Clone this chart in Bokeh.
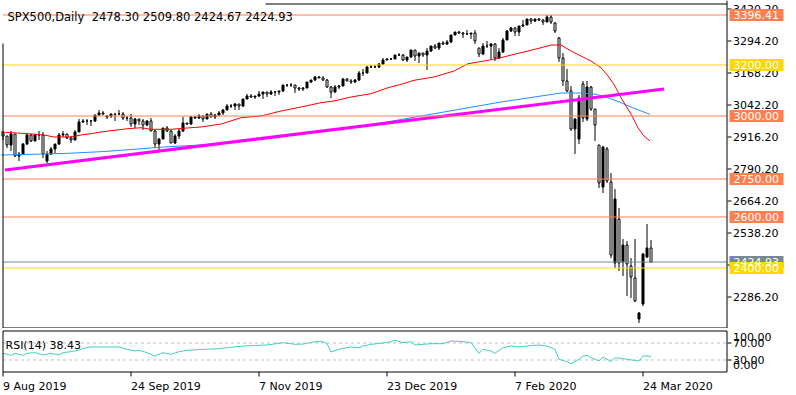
from bokeh.plotting import figure
from bokeh.layouts import column
from bokeh.models import Range1d, ColumnDataSource
from bokeh.core.properties import value
from bokeh.embed import file_html
from bokeh.resources import INLINE
import math

# ---------------- data ----------------
tick_idx = [0, 32, 64, 96, 128, 160]
tick_labels = ["9 Aug 2019", "24 Sep 2019", "7 Nov 2019", "23 Dec 2019", "7 Feb 2020", "24 Mar 2020"]

opens = [2930, 2918, 2883, 2926, 2841, 2848, 2889, 2924, 2901, 2924,
         2923, 2822, 2850, 2869, 2887, 2924, 2926, 2912, 2906, 2937,
         2976, 2979, 2978, 2980, 3001, 3010, 2995, 2998, 3006, 3007,
         3006, 2992, 2991, 2966, 2985, 2977, 2962, 2977, 2940, 2887,
         2910, 2952, 2938, 2893, 2919, 2938, 2970, 2966, 2995, 2989,
         2998, 2986, 3006, 2996, 3004, 3010, 3022, 3039, 3037, 3046,
         3037, 3066, 3078, 3074, 3077, 3085, 3093, 3087, 3092, 3094,
         3097, 3120, 3122, 3120, 3108, 3104, 3110, 3133, 3140, 3153,
         3150, 3141, 3114, 3093, 3112, 3117, 3146, 3136, 3132, 3142,
         3168, 3169, 3191, 3192, 3191, 3205, 3221, 3224, 3223, 3240,
         3240, 3221, 3231, 3258, 3235, 3246, 3237, 3253, 3274, 3265,
         3288, 3283, 3289, 3317, 3330, 3324, 3321, 3322, 3326, 3266,
         3243, 3276, 3273, 3284, 3226, 3249, 3298, 3335, 3346, 3328,
         3352, 3358, 3379, 3374, 3380, 3378, 3370, 3390, 3365, 3306,
         3226, 3136, 3098, 2946, 2907, 3123, 2985, 3112, 3025, 2884,
         2720, 2869, 2740, 2421, 2592, 2424, 2489, 2408, 2362, 2198,
         2257, 2444, 2478.30]
highs = [2938, 2921, 2941, 2928, 2858, 2893, 2931, 2928, 2928, 2939,
         2937, 2862, 2878, 2890, 2930, 2940, 2928, 2920, 2945, 2985,
         2985, 2988, 2981, 3002, 3021, 3017, 3002, 3006, 3008, 3022,
         3016, 3000, 3007, 2989, 2987, 2988, 2983, 2992, 2942, 2911,
         2953, 2959, 2944, 2929, 2948, 2993, 2972, 2999, 2997, 3008,
         3000, 3007, 3014, 3005, 3017, 3027, 3044, 3047, 3050, 3047,
         3067, 3085, 3084, 3078, 3097, 3094, 3094, 3102, 3098, 3098,
         3121, 3124, 3128, 3121, 3112, 3113, 3134, 3142, 3155, 3157,
         3155, 3145, 3116, 3120, 3120, 3150, 3148, 3143, 3143, 3176,
         3183, 3197, 3198, 3198, 3206, 3226, 3228, 3226, 3240, 3248,
         3244, 3232, 3259, 3260, 3247, 3248, 3268, 3276, 3283, 3288,
         3295, 3298, 3317, 3330, 3332, 3329, 3338, 3327, 3338, 3268,
         3285, 3293, 3285, 3287, 3268, 3306, 3338, 3348, 3349, 3353,
         3376, 3382, 3386, 3381, 3385, 3380, 3396.41, 3395, 3368, 3310,
         3246, 3182, 3117, 2990, 3082, 3136, 3136, 3115, 3028, 2886,
         2880, 2875, 2775, 2710, 2636, 2513, 2506, 2441, 2514, 2226,
         2460, 2572, 2509.80]
lows = [2903, 2873, 2860, 2838, 2822, 2845, 2886, 2898, 2899, 2904,
        2834, 2812, 2845, 2853, 2885, 2914, 2908, 2891, 2905, 2935,
        2972, 2964, 2958, 2975, 2998, 3002, 2987, 2992, 2978, 3003,
        2984, 2979, 2957, 2953, 2963, 2945, 2958, 2938, 2874, 2855,
        2908, 2935, 2892, 2890, 2908, 2936, 2962, 2963, 2986, 2986,
        2976, 2985, 2995, 2987, 3000, 3001, 3022, 3032, 3022, 3023,
        3035, 3066, 3068, 3064, 3073, 3066, 3075, 3083, 3078, 3082,
        3094, 3111, 3113, 3091, 3096, 3099, 3109, 3130, 3137, 3147,
        3138, 3109, 3070, 3090, 3103, 3117, 3135, 3124, 3129, 3138,
        3158, 3168, 3188, 3188, 3189, 3201, 3218, 3219, 3222, 3234,
        3216, 3212, 3229, 3214, 3206, 3232, 3181, 3250, 3261, 3260,
        3277, 3280, 3288, 3316, 3321, 3306, 3318, 3301, 3283, 3230,
        3238, 3268, 3225, 3214, 3222, 3247, 3296, 3330, 3315, 3315,
        3350, 3357, 3360, 3368, 3374, 3358, 3368, 3360, 3327, 3212,
        3117, 3092, 2940, 2850, 2890, 2975, 2980, 3020, 2900, 2716,
        2697, 2735, 2440, 2401, 2388, 2368, 2290, 2280, 2268, 2185,
        2250, 2440, 2424.67]
closes = [2918, 2883, 2926, 2841, 2848, 2889, 2924, 2901, 2924, 2923,
          2847, 2850, 2869, 2887, 2924, 2926, 2912, 2906, 2937, 2976,
          2979, 2978, 2980, 3001, 3010, 3007, 2998, 3006, 3007, 3006,
          2992, 2991, 2966, 2985, 2977, 2962, 2977, 2940, 2887, 2910,
          2952, 2938, 2893, 2919, 2938, 2970, 2966, 2995, 2989, 2998,
          2986, 3006, 2996, 3004, 3010, 3022, 3039, 3037, 3046, 3037,
          3066, 3078, 3074, 3077, 3085, 3093, 3087, 3092, 3094, 3097,
          3120, 3122, 3120, 3108, 3104, 3110, 3133, 3140, 3153, 3150,
          3141, 3114, 3093, 3112, 3117, 3146, 3136, 3132, 3142, 3168,
          3169, 3191, 3192, 3191, 3205, 3221, 3224, 3223, 3240, 3240,
          3221, 3231, 3258, 3235, 3246, 3237, 3253, 3274, 3265, 3288,
          3283, 3289, 3317, 3330, 3324, 3321, 3322, 3326, 3295, 3243,
          3276, 3273, 3284, 3226, 3249, 3298, 3335, 3346, 3328, 3352,
          3358, 3379, 3374, 3380, 3378, 3370, 3390, 3369, 3334, 3226,
          3136, 3098, 2946, 2987, 3071, 2992, 3112, 3025, 2963, 2735,
          2876, 2743, 2452, 2670, 2421, 2489, 2415, 2366, 2270, 2224,
          2454, 2477, 2424.93]

ma_red_idx = [-0.5, 6.25, 10.25, 12.75, 17, 19.5, 22, 24.5, 27.75, 31.25, 34.5, 37, 42, 47, 49.5,
              54.5, 59.5, 64.5, 69.5, 74.5, 79.5, 82.75, 87, 92, 96.25, 99.5, 102.75, 107.75,
              112.75, 116.25, 121.25, 124.5, 127.75, 131.25, 134.5, 137, 139.5, 142, 144.5, 147,
              149.5, 151.25, 152.75, 154.5, 157, 158.75, 160.25, 161.75]
ma_red = [2935.6, 2928.9, 2923.8, 2915.9, 2915.9, 2923.8, 2928.9, 2935.6, 2942.3, 2948.6, 2952.5,
          2946.2, 2946.2, 2952.5, 2955.3, 2967.0, 2991.9, 2998.6, 3018.3, 3034.0, 3051.0, 3057.6,
          3073.4, 3086.4, 3110.0, 3123.4, 3139.2, 3152.2, 3175.8, 3204.5, 3217.9, 3228.2, 3241.5,
          3254.5, 3267.5, 3278.2, 3278.2, 3254.5, 3234.9, 3215.2, 3188.8, 3156.1, 3123.4, 3070.6,
          3006.5, 2952.5, 2919.8, 2900.1]

ma_blue_idx = [-0.5, 7.75, 16.25, 24.5, 32.75, 41.25, 49.5, 54.5, 64.5, 74.5, 84.5, 94.5, 104.5,
               114.5, 124.5, 134.5, 139.5, 144.5, 148.25, 151.25, 154.5, 157.75, 161.75]
ma_blue = [2845.0, 2847.8, 2851.7, 2858.0, 2867.4, 2877.7, 2884.4, 2891.0, 2908.0, 2927.7, 2947.4,
           2971.0, 2998.6, 3026.1, 3053.7, 3077.3, 3089.2, 3089.2, 3084.0, 3070.6, 3050.9, 3028.9,
           3005.3]

trend_idx = [0.5, 165.25]
trend_price = [2786, 3105]

level_prices = [3396.41, 3200.00, 3000.00, 2750.00, 2600.00, 2424.93, 2400.00]
level_colors = ["#FF7F50", "#FFD700", "#FF7F50", "#FF7F50", "#FF7F50", "#778899", "#FFD700"]

price_ticks = [2286.2, 2412.2, 2538.2, 2664.2, 2790.2, 2916.2, 3042.2, 3168.2, 3294.2, 3420.2]

rsi_idx = [0, 2, 3, 5, 6, 8, 10, 12, 14, 15, 17, 19, 20, 22, 29, 31, 33, 34, 36, 38, 40, 42, 44, 46,
           50, 54, 56, 60, 66, 70, 73, 75, 78, 80, 81, 82, 84, 85, 87, 89, 90, 92, 95, 97, 98, 100,
           102, 103, 105, 107, 110, 112, 115, 117, 119, 120, 122, 123, 125, 127, 129, 131, 134, 136,
           138, 139, 141, 142, 144, 145, 146, 147, 149, 150, 152, 153, 155, 156, 159, 160, 161, 162]
rsi_vals = [45.8, 41.0, 45.8, 41.0, 45.8, 47.3, 41.8, 45.8, 41.8, 47.3, 49.6, 53.5, 57.5, 60.6, 60.6,
            55.1, 51.2, 52.7, 47.3, 39.4, 47.3, 43.4, 49.6, 52.7, 55.1, 56.7, 59.0, 62.9, 65.3, 70.7,
            66.9, 67.5, 73.1, 73.1, 68.4, 48.8, 55.1, 57.5, 60.6, 59.0, 62.9, 66.9, 70.0, 73.1, 76.4,
            70.7, 73.1, 65.3, 66.9, 68.4, 68.4, 74.7, 73.1, 70.7, 45.8, 55.1, 51.2, 45.8, 59.0, 62.9,
            60.6, 62.9, 65.3, 62.9, 55.1, 31.6, 26.1, 21.3, 31.6, 39.4, 41.0, 35.5, 27.6, 37.1, 26.1,
            35.5, 33.2, 31.6, 27.6, 39.4, 39.4, 38.43]
rsi_levels = [70, 30]
rsi_axis_labels = ["100.00", "70.00", "30.00", "0.00"]

# ---------------- layout constants (pixels -> data) ----------------
FONT = value("DejaVu Sans")
FS = value("11px")
PX = 4.0                      # pixels per bar
XS = -0.625                   # bar i centred at pixel 2.5 + 4 i
XE = XS + 796 / PX
def xd(px):                   # pixel column -> x data
    return px / PX + XS

PY = 3.9384                   # price per pixel
YTOP = 3453.5                 # price at pixel row 0
def yd(py):                   # pixel row -> price
    return YTOP - py * PY
def snap(price):              # draw a price on the centre of its pixel row (crisp 1px lines)
    return yd(math.floor((YTOP - price) / PY) + 0.5)

AX = xd(726.5)                # price-axis line
LEFT = xd(2.5)
TOPB = yd(3.5)
BOTB = yd(327.5)

# ---------------- main pane ----------------
idx = list(range(len(opens)))
src = ColumnDataSource(dict(
    x=idx, h=[snap(v) for v in highs], l=[snap(v) for v in lows],
    top=[snap(max(o, c)) for o, c in zip(opens, closes)],
    bot=[snap(min(o, c)) for o, c in zip(opens, closes)],
    fill=["black" if c > o else "white" for o, c in zip(opens, closes)],
))

p = figure(width=796, height=328, x_range=Range1d(XS, XE), y_range=Range1d(yd(328), YTOP),
           output_backend="svg", toolbar_location=None, x_axis_location=None,
           y_axis_location=None, min_border=0)
p.grid.visible = False
p.outline_line_color = None
p.background_fill_color = "white"
p.border_fill_color = "white"

p.segment(x0="x", y0="l", x1="x", y1="h", source=src, line_color="black", line_width=1)
p.vbar(x="x", width=0.5, top="top", bottom="bot", fill_color="fill", line_color="black",
       line_width=1, source=src)

p.line(ma_blue_idx, ma_blue, line_color="#1E90FF", line_width=1)
p.line(ma_red_idx, ma_red, line_color="#FF0000", line_width=1)
p.line(trend_idx, trend_price, line_color="#FF00FF", line_width=3)

lv_draw = [snap(lv) for lv in level_prices]
p.segment(x0=[LEFT] * len(level_prices), x1=[AX] * len(level_prices), y0=lv_draw,
          y1=lv_draw, line_color=level_colors, line_width=1)

# pane border and price axis
p.segment(x0=[xd(265), LEFT, LEFT, AX], x1=[AX, AX, LEFT, AX],
          y0=[TOPB, BOTB, yd(43), YTOP], y1=[TOPB, BOTB, BOTB, BOTB],
          line_color="black", line_width=1)
tk_draw = [snap(t) for t in price_ticks]
p.segment(x0=[xd(727)] * len(price_ticks), x1=[xd(731)] * len(price_ticks), y0=tk_draw,
          y1=tk_draw, line_color="black", line_width=1)
p.text(x=[xd(732.5)] * len(price_ticks), y=tk_draw, text=["%.2f" % t for t in price_ticks],
       text_font=FONT, text_font_size=FS, text_baseline="middle", text_align="left",
       text_color="black")

half = 6 * PY
p.quad(left=[xd(729)] * len(level_prices), right=[xd(783)] * len(level_prices),
       top=[lv + half for lv in lv_draw], bottom=[lv - half for lv in lv_draw],
       fill_color=level_colors, line_color=None)
p.text(x=[xd(733)] * len(level_prices), y=lv_draw, text=["%.2f" % lv for lv in level_prices],
       text_font=FONT, text_font_size=FS, text_baseline="middle", text_align="left",
       text_color="white")

title = "SPX500,Daily\u00a0\u00a0%.2f %.2f %.2f %.2f" % (opens[-1], highs[-1], lows[-1], closes[-1])
p.text(x=[xd(7)], y=[yd(16.5)], text=[title], text_font=FONT, text_font_size=value("11.5px"),
       text_baseline="alphabetic", text_align="left", text_color="black")

# ---------------- RSI pane + time axis ----------------
R_SLOPE = 0.425               # pixels per RSI unit
def rd(py):                   # page pixel row -> RSI value
    return 70 - (py - 342.5) / R_SLOPE

r = figure(width=796, height=67, x_range=p.x_range, y_range=Range1d(rd(395), rd(328)),
           output_backend="svg", toolbar_location=None, x_axis_location=None,
           y_axis_location=None, min_border=0)
r.grid.visible = False
r.outline_line_color = None
r.background_fill_color = "white"
r.border_fill_color = "white"

RT, RB = rd(330.5), rd(371.5)
r.segment(x0=[LEFT] * 2, x1=[AX] * 2, y0=rsi_levels, y1=rsi_levels, line_color="#C0C0C0",
          line_width=1, line_dash="3 3")
r.line(rsi_idx, rsi_vals, line_color="#40D0C8", line_width=1)
r.segment(x0=[LEFT, LEFT, LEFT, AX], x1=[AX, AX, LEFT, AX], y0=[RT, RB, RB, RB],
          y1=[RT, RB, RT, RT], line_color="black", line_width=1)
r.segment(x0=[xd(727)] * 2, x1=[xd(731)] * 2, y0=rsi_levels, y1=rsi_levels,
          line_color="black", line_width=1)
r.text(x=[xd(732.5)] * 4, y=[rd(336.3), 70, 30, rd(364.3)], text=rsi_axis_labels,
       text_font=FONT, text_font_size=FS, text_baseline="middle", text_align="left",
       text_color="black")
r.text(x=[xd(5)], y=[rd(344.5)], text=["RSI(14) %.2f" % rsi_vals[-1]], text_font=FONT,
       text_font_size=FS, text_baseline="alphabetic", text_align="left", text_color="black")

# time axis: ticks below the pane, labels starting at their tick
r.segment(x0=tick_idx, x1=tick_idx, y0=[RB] * len(tick_idx), y1=[rd(376)] * len(tick_idx),
          line_color="black", line_width=1)
r.text(x=tick_idx, y=[rd(386)] * len(tick_idx), text=tick_labels, text_font=FONT,
       text_font_size=FS, text_baseline="alphabetic", text_align="left", text_color="black")

layout = column(p, r, spacing=0)
open("out.html", "w").write(file_html(layout, INLINE))
